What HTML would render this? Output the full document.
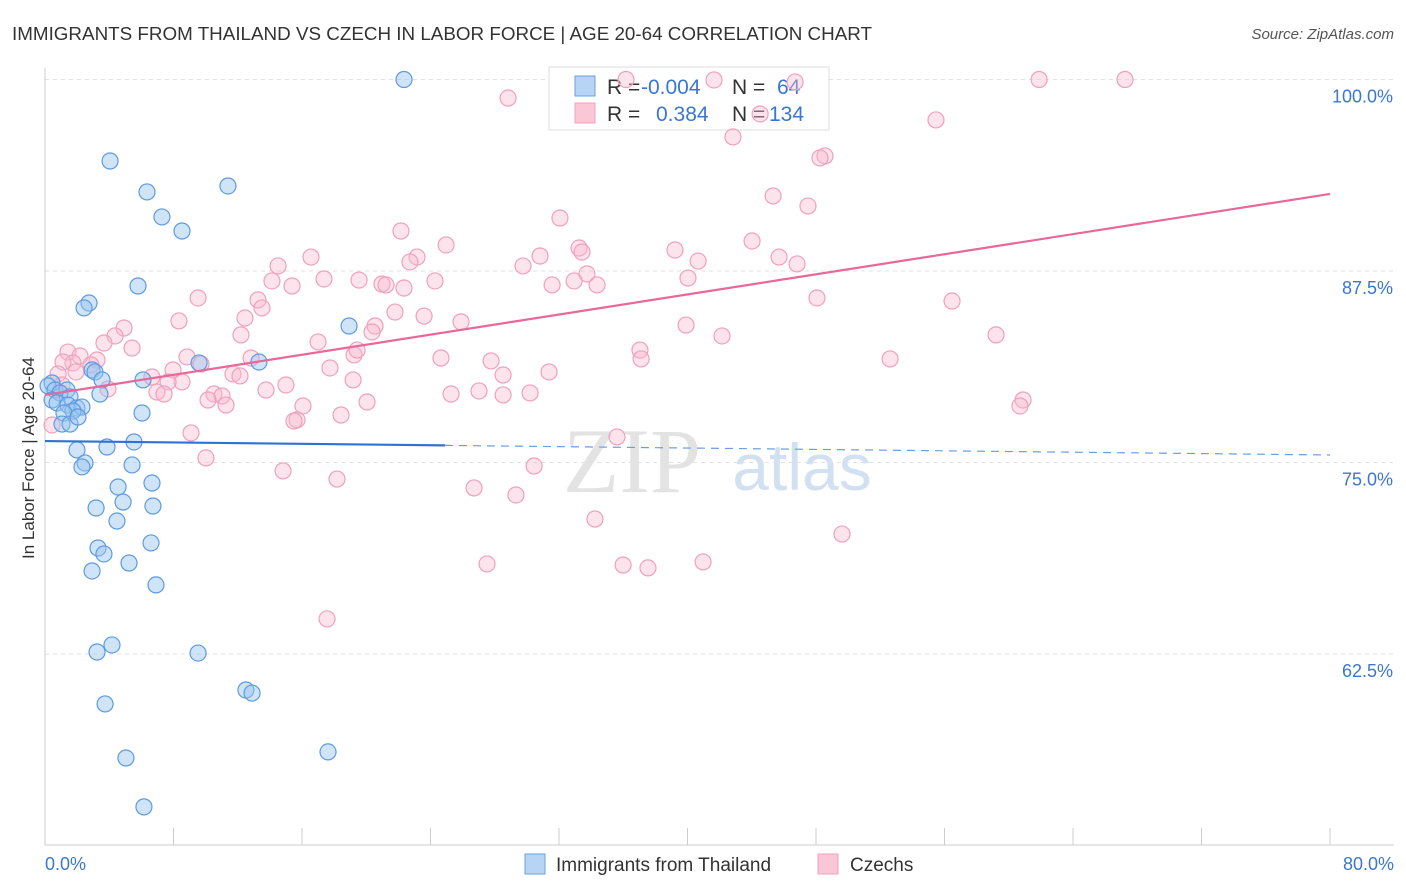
<!DOCTYPE html>
<html><head><meta charset="utf-8"><style>
body{margin:0;background:#fff;font-family:"Liberation Sans",sans-serif;}
#wrap{position:relative;width:1406px;height:892px;overflow:hidden;}
</style></head><body>
<div id="wrap">
<svg id="svg" width="1406" height="892" xmlns="http://www.w3.org/2000/svg">
<text x="12" y="40" font-size="18" fill="#333" textLength="860" lengthAdjust="spacingAndGlyphs">IMMIGRANTS FROM THAILAND VS CZECH IN LABOR FORCE | AGE 20-64 CORRELATION CHART</text>
<text x="1394" y="39" font-size="15" fill="#555" font-style="italic" text-anchor="end">Source: ZipAtlas.com</text>
<text x="34" y="458" font-size="17" fill="#333" text-anchor="middle" transform="rotate(-90 34 458)">In Labor Force | Age 20-64</text>
<g>
<text x="632" y="492" font-size="92" fill="#ddd" font-family="Liberation Serif" text-anchor="middle" opacity="0.8">ZIP</text>
<text x="802" y="490" font-size="66" fill="#c8daf0" text-anchor="middle" opacity="0.8">atlas</text>
</g>
<g id="grid"></g><g id="axes"></g>
<g>
<rect x="549" y="67" width="280" height="63" fill="#fff" stroke="#ddd"/>
<rect x="575" y="76" width="20" height="20" fill="#b8d4f4" stroke="#6aa0e0"/>
<rect x="575" y="103" width="20" height="20" fill="#fbc6d6" stroke="#f0a0bc"/>
<g font-size="21">
<text x="607" y="94" fill="#333">R =</text><text x="641" y="94" fill="#3a78d0">-0.004</text>
<text x="732" y="94" fill="#333">N =</text><text x="777" y="94" fill="#3a78d0">64</text>
<text x="607" y="121" fill="#333">R =</text><text x="656" y="121" fill="#3a78d0">0.384</text>
<text x="732" y="121" fill="#333">N =</text><text x="769" y="121" fill="#3a78d0">134</text>
</g>
</g>
<g id="pts"></g><g id="lines"></g>
<g>
<rect x="525" y="854" width="20" height="20" fill="#b8d4f4" stroke="#6aa0e0"/>
<text x="556" y="871" font-size="19" fill="#333">Immigrants from Thailand</text>
<rect x="818" y="854" width="20" height="20" fill="#fbc6d6" stroke="#f0a0bc"/>
<text x="850" y="871" font-size="19" fill="#333">Czechs</text>
</g>
</svg>
</div>
<script>
const yTicks=[62.5,75.0,87.5,100.0];
const yTickLabels=["62.5%","75.0%","87.5%","100.0%"];
const xTickLabels=["0.0%","80.0%"];
const blueX=[22.35,4.05,6.35,11.39,7.28,8.53,5.79,2.74,2.43,18.93,9.59,13.32,2.93,3.11,3.55,6.10,0.44,0.19,0.62,1.37,0.93,1.56,3.42,0.44,0.75,1.43,1.99,2.30,1.74,1.18,6.04,1.06,1.56,2.05,3.86,5.54,1.99,2.49,2.30,5.42,4.55,6.66,4.86,3.18,6.72,4.48,6.60,3.30,3.67,5.23,2.93,6.91,4.17,3.24,9.53,12.51,12.89,3.74,17.62,5.04,6.16];
const blueY=[100.0,94.68,92.66,93.05,91.03,90.11,86.52,85.41,85.09,83.91,81.50,81.56,81.04,80.91,80.39,80.39,80.19,80.0,79.73,79.73,79.54,79.28,79.47,79.08,78.89,78.75,78.56,78.62,78.36,78.23,78.23,77.51,77.51,77.97,76.01,76.34,75.82,74.97,74.71,74.84,73.40,73.66,72.42,72.03,72.16,71.18,69.75,69.42,69.03,68.44,67.92,67.01,63.09,62.63,62.56,60.15,59.95,59.24,56.11,55.71,52.52];
const pinkX=[36.17,41.65,46.70,61.89,67.24,28.83,44.52,55.47,42.83,48.56,48.25,45.33,47.50,32.06,22.16,44.02,24.97,33.25,30.82,33.43,39.22,23.16,22.72,16.56,40.66,45.70,46.82,29.76,14.51,33.74,14.13,17.37,19.55,20.98,21.23,24.28,32.94,40.03,34.37,31.57,15.38,22.35,9.53,13.26,13.51,48.06,56.47,21.79,23.60,12.45,8.34,25.90,20.55,20.36,39.91,42.15,59.21,12.20,4.92,4.36,3.67,5.42,17.00,19.24,19.43,37.04,24.65,8.84,52.61,37.11,3.24,1.43,2.18,1.74,1.12,2.86,9.71,27.77,12.83,7.97,17.74,31.38,28.52,6.66,11.70,8.53,12.14,7.66,0.81,19.18,15.00,13.76,3.92,6.97,7.41,10.52,11.02,10.15,11.27,25.28,27.02,30.20,28.52,20.05,16.06,18.43,15.69,15.50,60.89,60.70,9.09,35.61,10.02,30.45,14.82,18.18,26.71,29.32,34.24,49.62,27.52,35.99,37.54,40.97,17.56,0.44,1.93,1.06];
const pinkY=[100.0,99.97,99.84,100.0,100.0,98.79,97.75,97.36,96.25,95.01,94.88,92.40,91.74,90.96,90.11,89.46,89.20,89.0,88.48,88.74,88.87,88.41,88.09,88.41,88.15,88.41,87.96,87.83,87.83,87.31,86.85,86.98,86.91,86.65,86.59,86.85,86.85,87.04,86.59,86.59,86.52,86.39,85.74,85.61,85.09,85.74,85.54,84.82,84.56,84.43,84.24,84.18,83.91,83.52,83.97,83.26,83.33,83.33,83.78,83.26,82.80,82.47,82.87,82.02,82.34,82.34,81.82,81.89,81.76,81.76,81.69,82.21,81.95,81.50,81.56,81.37,81.43,81.63,81.82,81.04,81.17,80.91,80.71,80.58,80.78,80.26,80.65,80.26,80.78,80.39,80.06,79.73,79.80,79.60,79.47,79.47,79.34,79.08,78.75,79.47,79.67,79.54,79.41,78.95,78.69,78.10,77.78,77.71,79.08,78.69,76.93,76.67,75.30,74.77,74.45,73.92,73.34,72.88,71.31,70.33,68.38,68.31,68.12,68.51,64.79,77.45,80.91,80.06];
const blueTrend=[76.40,75.49];
const pinkTrend=[79.41,92.53];
const blueSolidEnd=24.9;

const NS="http://www.w3.org/2000/svg";
const X0=45,X1=1330,Yp100=79.5,PXPER=191.5/12.5;
function sx(v){return X0+(v/80)*(X1-X0);}
function sy(v){return Yp100+(100-v)*PXPER;}
function mk(tag,attrs,parent){const e=document.createElementNS(NS,tag);for(const k in attrs)e.setAttribute(k,attrs[k]);parent.appendChild(e);return e;}
const grid=document.getElementById('grid'),axes=document.getElementById('axes'),pts=document.getElementById('pts'),lines=document.getElementById('lines');
yTicks.forEach((t,i)=>{
  const l=mk('line',{x1:X0,x2:1394,y1:sy(t),y2:sy(t),stroke:'#e2e2e2','stroke-dasharray':'4,4'},grid);
  
  
  const tx=mk('text',{x:1393,y:sy(t)+23,'font-size':18,fill:'#3a78d0','text-anchor':'end'},axes);
  tx.textContent=yTickLabels[i];
  
  
});
const ax=mk('line',{x1:X0,x2:X0,y1:68,y2:845,stroke:'#ccc'},axes);


const bx=mk('line',{x1:X0,x2:1394,y1:845,y2:845,stroke:'#ccc'},axes);


for(let i=0;i<=10;i++){const t=mk('line',{x1:sx(i*8),x2:sx(i*8),y1:828,y2:845,stroke:'#ccc'},axes);
  
  }
[[0,'start',45],[80,'end',1394]].forEach((a,i)=>{const t=mk('text',{x:a[2],y:870,'font-size':18,fill:'#3a78d0','text-anchor':a[1]},axes);t.textContent=xTickLabels[i];
  
  });
function dots(xs,ys,fill,stroke,name){xs.forEach((x,i)=>{const c=mk('circle',{cx:sx(x),cy:sy(ys[i]),r:8,fill:fill,stroke:stroke,'stroke-width':1.2},pts);
  
  });}
dots(pinkX,pinkY,'rgba(248,185,208,0.4)','#f0a0bc','czech-point');
dots(blueX,blueY,'rgba(150,195,240,0.45)','#5d9ae0','thailand-point');
function ty(tr,x){return tr[0]+(tr[1]-tr[0])*x/80;}
const b1=mk('line',{x1:sx(0),y1:sy(ty(blueTrend,0)),x2:sx(blueSolidEnd),y2:sy(ty(blueTrend,blueSolidEnd)),stroke:'#2f72d6','stroke-width':2.2},lines);


const b2=mk('line',{x1:sx(blueSolidEnd),y1:sy(ty(blueTrend,blueSolidEnd)),x2:sx(80),y2:sy(ty(blueTrend,80)),stroke:'#6a9ee0','stroke-width':1.2,'stroke-dasharray':'8,6'},lines);


const p1=mk('line',{x1:sx(0),y1:sy(pinkTrend[0]),x2:sx(80),y2:sy(pinkTrend[1]),stroke:'#e8689a','stroke-width':2.2},lines);


</script>
</body></html>
